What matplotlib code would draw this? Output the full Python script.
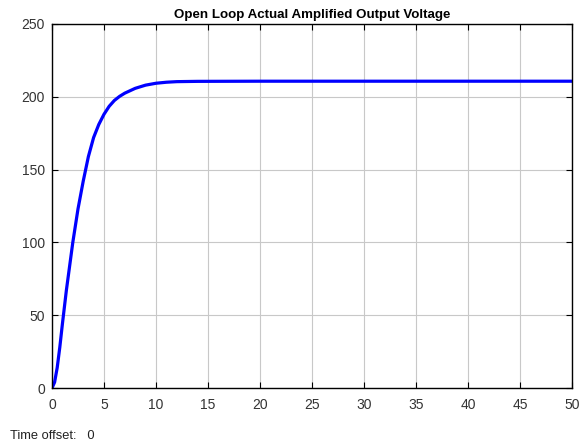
import numpy as np
import matplotlib
matplotlib.use("Agg")
import matplotlib.pyplot as plt

# step response
t = [0, 0.25, 0.5, 0.75, 1.0, 1.38, 2.0, 2.5, 3.0, 3.5, 4.0, 4.5, 5.0, 5.5, 6.0,
     6.5, 7.0, 8.0, 9.0, 10.0, 11.0, 12.0, 14.0, 20.0, 50.0]
v = [0, 4, 14, 28, 44, 67, 100, 123, 142, 159, 172, 181, 188, 193.5, 197.5,
     200.3, 202.5, 205.8, 208, 209.3, 210, 210.4, 210.6, 210.7, 210.7]

xticks = np.arange(0, 51, 5)
yticks = np.arange(0, 251, 50)

plt.rcParams['font.family'] = ['Liberation Sans', 'DejaVu Sans']

fig = plt.figure(figsize=(5.81, 4.44), dpi=100)
ax = fig.add_axes([0.0895, 0.126, 0.895, 0.820])

ax.plot(t, v, color=(0, 0, 1), lw=2.3, solid_joinstyle='round',
        solid_capstyle='round')

ax.set_xlim(0, 50)
ax.set_ylim(0, 250)
ax.set_xticks(xticks)
ax.set_yticks(yticks)
ax.grid(True, color='#c8c8c8', lw=0.8)
ax.tick_params(direction='in', top=True, right=True, labelsize=10,
               labelcolor='#333333', length=4, width=0.8)
ax.tick_params(axis='y', pad=5)
ax.tick_params(axis='x', pad=7)
for s in ax.spines.values():
    s.set_linewidth(1.0)
ax.set_title("Open Loop Actual Amplified Output Voltage", fontsize=9.6,
             fontweight='bold', pad=4)

fig.text(0.017, 0.012, "Time offset:   0", fontsize=9.3, color='#222222')

fig.savefig("out.png", dpi=100)
